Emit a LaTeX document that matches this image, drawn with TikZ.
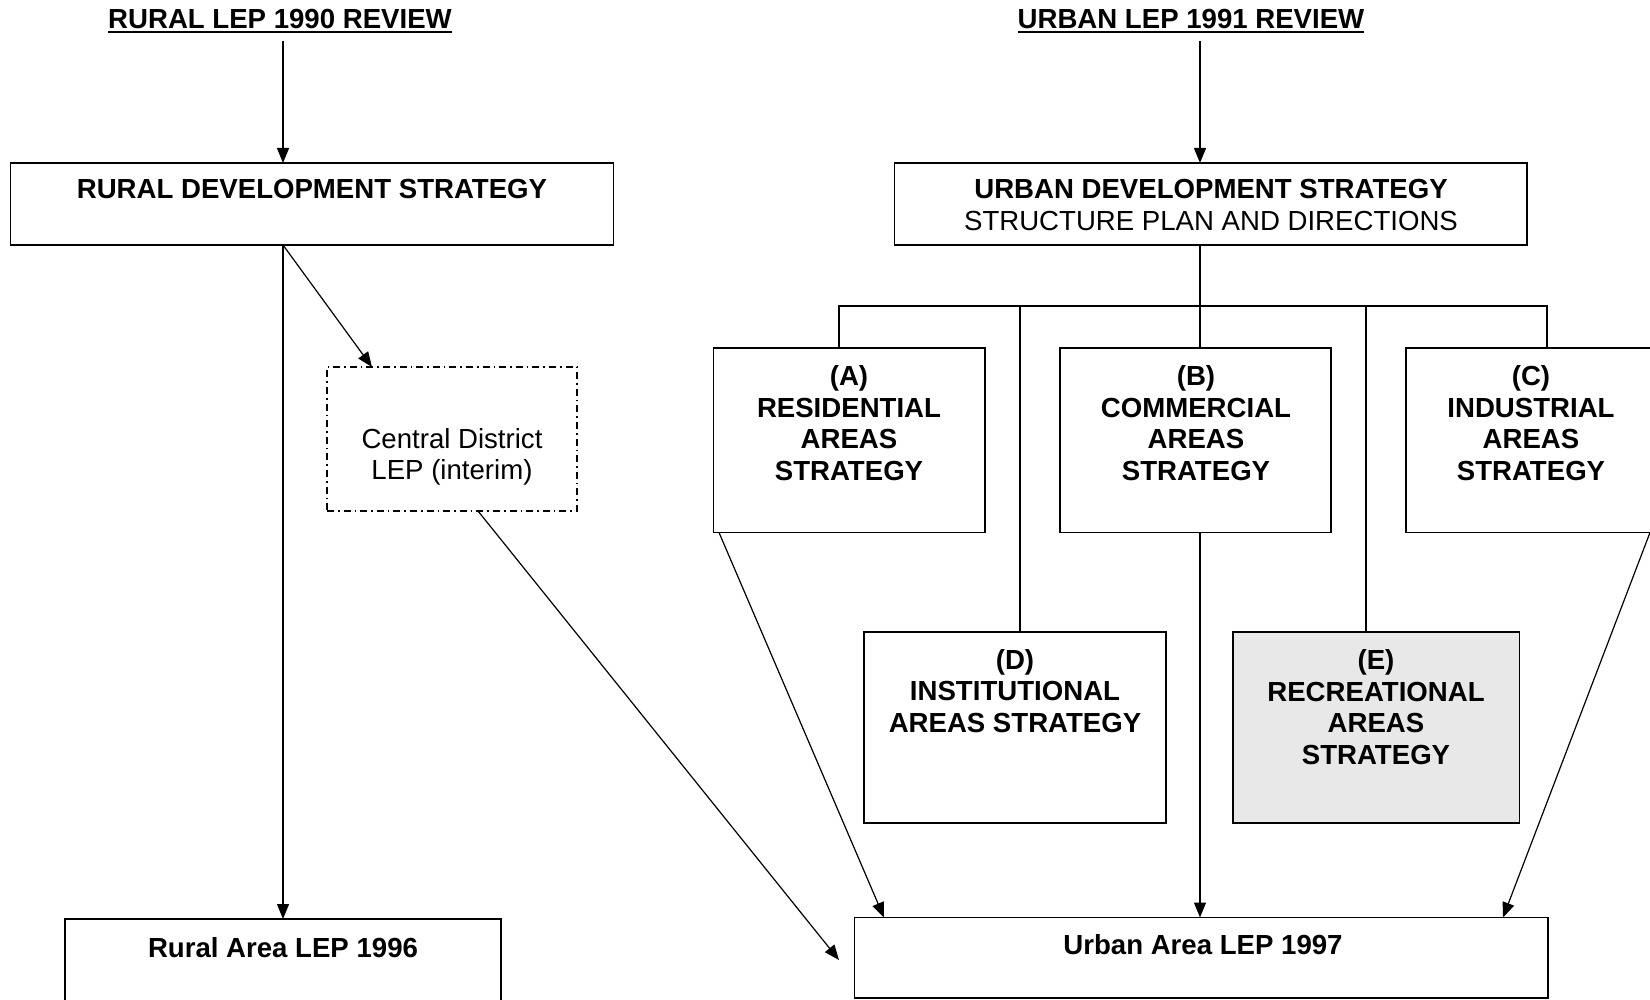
\documentclass[tikz,border=0pt]{standalone}
\usepackage{fontspec}
\setmainfont{Liberation Sans}
\usetikzlibrary{arrows.meta,fit,calc}
\definecolor{egray}{RGB}{232,232,232}
\newcommand\myul[1]{\setbox0\hbox{#1}\rlap{\rule[-2.6pt]{\wd0}{1pt}}\box0}
\newcommand\dfont{\fontsize{13.8}{15.8}\selectfont}
\begin{document}
\begin{tikzpicture}[x=0.5pt,y=-0.5pt,
  box/.style={draw, line width=0.65pt, inner sep=0pt, outer sep=0pt},
  dbox/.style={draw, line width=0.6pt, inner sep=0pt, outer sep=0pt,
    dash pattern=on 3.5pt off 2pt on 0.8pt off 2pt},
  txt/.style={align=center, inner sep=0pt, font=\dfont},
  btxt/.style={align=center, inner sep=0pt, font=\dfont\bfseries},
  ttl/.style={btxt, anchor=base},
  arr/.style={line width=0.6pt, -{Triangle[length=7.5pt,width=6pt]}},
  ln/.style={line width=0.6pt}]
\useasboundingbox (0,0) rectangle (1650,1000);

% titles
\node[ttl] (rtitle) at (280,28.3) {\myul{RURAL LEP 1990 REVIEW}};
\node[ttl] (utitle) at (1191,28.3) {\myul{URBAN LEP 1991 REVIEW}};

% boxes
\node[box, fit={(10.5,163) (613.5,245)}] (rds) {};
\node[box, fit={(894.5,163) (1527,245)}] (uds) {};
\node[dbox, fit={(327,367) (577,511)}] (cd) {};
\node[box, fit={(713.5,348) (985,532.5)}] (A) {};
\node[box, fit={(1060,348) (1331,532.5)}] (B) {};
\node[box, fit={(1406,348) (1677,532.5)}] (C) {};
\node[box, fit={(864,632) (1166,823)}] (D) {};
\node[box, fill=egray, fit={(1233,632) (1519.5,823)}] (E) {};
\node[box, fit={(65,919) (501,1015)}] (rlep) {};
\node[box, fit={(854.5,917.5) (1548,998)}] (ulep) {};

% texts
\node[btxt] (rdsT) at (312,189) {RURAL DEVELOPMENT STRATEGY};
\node[txt] (udsT) at (1211,205) {\textbf{URBAN DEVELOPMENT STRATEGY}\\STRUCTURE PLAN AND DIRECTIONS};
\node[txt] (cdT) at (452,457) {Central District\\LEP (interim)};
\node[btxt] (AT) at (849,423) {(A)\\RESIDENTIAL\\AREAS\\STRATEGY};
\node[btxt] (BT) at (1196,423) {(B)\\COMMERCIAL\\AREAS\\STRATEGY};
\node[btxt] (CT) at (1531,423) {(C)\\INDUSTRIAL\\AREAS\\STRATEGY};
\node[btxt] (DT) at (1015,691) {(D)\\INSTITUTIONAL\\AREAS STRATEGY};
\node[btxt] (ET) at (1376,707) {(E)\\RECREATIONAL\\AREAS\\STRATEGY};
\node[btxt] (rlepT) at (283,948) {Rural Area LEP 1996};
\node[btxt] (ulepT) at (1203,945) {Urban Area LEP 1997};

% coordinates
\coordinate (bus) at (1200,306);
\coordinate (busL) at (839,306);
\coordinate (busR) at (1547,306);
\coordinate (busD) at (1020,306);
\coordinate (busE) at (1366,306);
\coordinate (ctip) at (839,960);

% rural connectors
\draw[arr, shorten <=3.5pt] (rtitle.south -| rlep.north) -- (rds.north -| rlep.north);
\draw[arr] (rds.south -| rlep.north) -- (rlep.north);
\draw[arr] (rds.south -| rlep.north) -- ($(cd.north west)!0.18!(cd.north east)$);
\draw[arr] ($(cd.south west)!0.604!(cd.south east)$) -- (ctip);

% urban connectors
\draw[arr, shorten <=3.5pt] (utitle.south -| bus) -- (uds.north -| bus);
\draw[ln] (uds.south -| bus) -- (bus);
\draw[ln] (busL |- A.north) -- (busL) -- (busR) -- (busR |- C.north);
\draw[ln] (bus) -- (bus |- B.north);
\draw[ln] (busD) -- (busD |- D.north);
\draw[ln] (busE) -- (busE |- E.north);

\draw[arr] ([xshift=2.75pt]A.south west) -- ([xshift=14.75pt]ulep.north west);
\draw[arr] (B.south -| bus) -- (ulep.north -| bus);
\draw[arr] ([xshift=122pt]C.south west) -- ([xshift=-22.5pt]ulep.north east);
\end{tikzpicture}
\end{document}
